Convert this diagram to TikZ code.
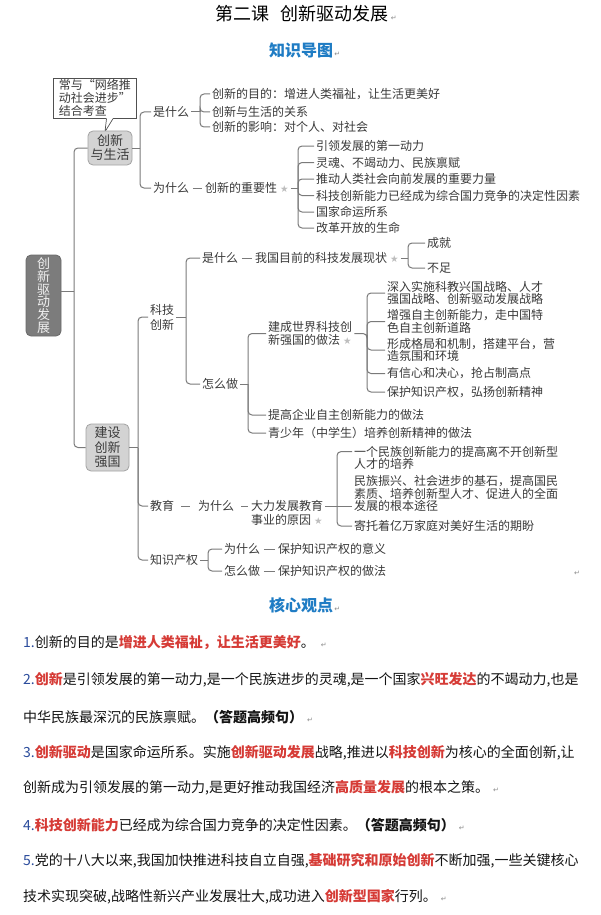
\documentclass[tikz,border=0pt]{standalone}
\usepackage{fontspec}
\setmainfont{Noto Sans CJK SC}
\newfontfamily\dvfont{DejaVu Sans}
\usetikzlibrary{calc}
\definecolor{linec}{HTML}{7A7A7A}
\definecolor{txtc}{HTML}{3A3A3A}
\definecolor{titleblue}{HTML}{1F7CC4}
\definecolor{hired}{HTML}{D63B36}
\definecolor{numblue}{HTML}{2B4C9C}
\definecolor{starc}{HTML}{BDBDBD}
\definecolor{retc}{HTML}{8A8A8A}
\definecolor{boxfill}{HTML}{D3D3D3}
\definecolor{boxdraw}{HTML}{A3A3A3}
\definecolor{rootfill}{HTML}{7C7C7C}
\definecolor{calldraw}{HTML}{505050}
\newcommand\mystar{\hspace{3pt}{\dvfont\fontsize{9.5}{9.5}\selectfont\textcolor{starc}{★}}}
\newcommand\myret{{\dvfont\fontsize{7}{7}\selectfont\textcolor{retc}{↵}}}
\newcommand\hl[1]{\textcolor{hired}{\bfseries #1}}
\newcommand\num[1]{\textcolor{numblue}{#1}}
\begin{document}
\begin{tikzpicture}[x=1pt,y=-1pt,
  lbl/.style={anchor=west, inner sep=2pt, text=txtc, font=\fontsize{12}{12}\selectfont},
  mlbl/.style={lbl, align=left, font=\fontsize{12}{12.8}\selectfont},
  conn/.style={draw=linec, line width=1pt, rounded corners=4pt},
  dashc/.style={conn, shorten <=1.5pt, shorten >=1.5pt},
  graybox/.style={draw=boxdraw, fill=boxfill, rounded corners=5pt, line width=0.8pt, align=center, text=txtc, inner sep=0pt},
  para/.style={anchor=west, inner sep=0pt, font=\fontsize{14}{14}\selectfont, text=black!92},
  heading/.style={font=\bfseries\fontsize{16}{16}\selectfont, text=titleblue, inner sep=0pt},
  retnode/.style={anchor=base west, inner sep=0pt}
]
\fill[white] (0,0) rectangle (601,915);
\useasboundingbox (0,0) rectangle (601,915);

% titles
\node[font=\fontsize{18}{18}\selectfont, text=black, inner sep=0pt] (title) at (302,14) {第二课\hspace{11pt}创新驱动发展};
\node[retnode] (ret1) at ([xshift=2pt]title.base east) {\myret};
\node[heading] (map) at (301,50) {知识导图};
\node[retnode] (ret2) at ([xshift=1pt]map.base east) {\myret};

% callout
\node[draw=calldraw, fill=white, line width=0.7pt, anchor=north west, minimum width=83pt, minimum height=40pt, inner xsep=5pt, inner ysep=0pt, align=left, text=txtc, font=\fontsize{12}{13}\selectfont] (call) at (53,78) {常与“网络推\\动社会进步”\\结合考查};
\fill[white] ([shift={(53.5,-0.5)}]call.south west) -- ([shift={(52,13)}]call.south west) -- ([shift={(60,-0.5)}]call.south west) -- cycle;
\draw[calldraw, line width=0.7pt] ([shift={(53.5,0)}]call.south west) -- ([shift={(52,13)}]call.south west) -- ([shift={(60,0)}]call.south west);

% main boxes
\node[graybox, minimum width=44pt, minimum height=34pt, font=\fontsize{13}{14}\selectfont] (life) at (110,148) {创新\\与生活};
\node[graybox, draw=rootfill!85!black, fill=rootfill, text=white!94!black, minimum width=35pt, minimum height=81pt, font=\fontsize{13}{12.8}\selectfont] (root) at (43.5,295.5) {创\\新\\驱\\动\\发\\展};
\node[graybox, minimum width=43pt, minimum height=47pt, font=\fontsize{13}{14.5}\selectfont] (build) at (107.5,447.5) {建设\\创新\\强国};

\coordinate (j0) at (74,291);
\draw[conn] (root.east |- j0) -- (j0);
\draw[conn] (j0) |- (life.west);
\draw[conn] (j0) |- (build.west);

% ---- creation and life
\node[lbl] (what1) at (151,112) {是什么};
\node[lbl] (why1) at (151,188) {为什么};
\coordinate (j1) at (140,148);
\draw[conn] (life.east) -- (j1);
\draw[conn] (j1) |- (what1.west);
\draw[conn] (j1) |- (why1.west);

\node[lbl] (a1) at (210,94) {创新的目的：增进人类福祉，让生活更美好};
\node[lbl] (a2) at (210,112) {创新与生活的关系};
\node[lbl] (a3) at (210,127) {创新的影响：对个人、对社会};
\coordinate (j2) at (200,112);
\draw[conn] (what1.east) -- (j2);
\draw[conn] (j2) |- (a1.west);
\draw[conn] (j2) |- (a2.west);
\draw[conn] (j2) |- (a3.west);

\node[lbl] (imp) at (203,188) {创新的重要性\mystar};
\draw[dashc] (why1.east) -- (imp.west);
\coordinate (j3) at (298,188);
\draw[conn] (imp.east) -- (j3);
\node[lbl] (b1) at (314,146) {引领发展的第一动力};
\node[lbl] (b2) at (314,162.5) {灵魂、不竭动力、民族禀赋};
\node[lbl] (b3) at (314,179) {推动人类社会向前发展的重要力量};
\node[lbl] (b4) at (314,195.5) {科技创新能力已经成为综合国力竞争的决定性因素};
\node[lbl] (b5) at (314,212) {国家命运所系};
\node[lbl] (b6) at (314,228) {改革开放的生命};
\foreach \n in {b1,b2,b3,b4,b5,b6} \draw[conn] (j3) |- (\n.west);

% ---- building
\node[lbl, align=left, font=\fontsize{12}{15}\selectfont] (tech) at (148,317) {科技\\创新};
\node[lbl] (edu0) at (148,506) {教育};
\node[lbl] (ip) at (148,560) {知识产权};
\coordinate (j4) at (138,447.5);
\draw[conn] (build.east) -- (j4);
\draw[conn] (j4) |- (tech.west);
\draw[conn] (j4) |- (edu0.west);
\draw[conn] (j4) |- (ip.west);

\coordinate (j5) at (186,317);
\draw[conn] (tech.east) -- (j5);
\node[lbl] (what2) at (200,258) {是什么};
\node[lbl] (how2) at (200,384) {怎么做};
\draw[conn] (j5) |- (what2.west);
\draw[conn] (j5) |- (how2.west);

\node[lbl] (status) at (253,258) {我国目前的科技发展现状\mystar};
\draw[dashc] (what2.east) -- (status.west);
\coordinate (j6) at (408,258);
\draw[conn] (status.east) -- (j6);
\node[lbl] (ach) at (425,243) {成就};
\node[lbl] (lack) at (425,268) {不足};
\draw[conn] (j6) |- (ach.west);
\draw[conn] (j6) |- (lack.west);

\coordinate (j7) at (248,384);
\draw[conn] (how2.east) -- (j7);
\node[mlbl, font=\fontsize{12}{13.5}\selectfont] (way) at (266,333.5) {建成世界科技创\\新强国的做法\mystar};
\node[lbl] (ent) at (266,415) {提高企业自主创新能力的做法};
\node[lbl] (youth) at (266,433) {青少年（中学生）培养创新精神的做法};
\draw[conn] (j7) |- (way.west);
\draw[conn] (j7) |- (ent.west);
\draw[conn] (j7) |- (youth.west);

\coordinate (j8) at (367,334.5);
\draw[conn] (way.east) -- (way.east -| j8) -- (j8);
\node[mlbl] (c1) at (385,293) {深入实施科教兴国战略、人才\\强国战略、创新驱动发展战略};
\node[mlbl] (c2) at (385,321.5) {增强自主创新能力，走中国特\\色自主创新道路};
\node[mlbl] (c3) at (385,350) {形成格局和机制，搭建平台，营\\造氛围和环境};
\node[lbl] (c4) at (385,373.5) {有信心和决心，抢占制高点};
\node[lbl] (c5) at (385,392) {保护知识产权，弘扬创新精神};
\foreach \n in {c1,c2,c3,c4,c5} \draw[conn] (j8) |- (\n.west);

% education
\node[lbl] (why3) at (196,506) {为什么};
\draw[conn, shorten <=5pt, shorten >=6pt] (edu0.east) -- (why3.west);
\node[lbl] (edu) at (249,506) {大力发展教育};
\node[lbl] (edu2) at (249,520) {事业的原因\mystar};
\draw[conn, shorten <=5pt, shorten >=1pt] (why3.east) -- (edu.west);
\node[mlbl] (e1) at (352,458) {一个民族创新能力的提高离不开创新型\\人才的培养};
\node[mlbl] (e2) at (352,493.5) {民族振兴、社会进步的基石，提高国民\\素质、培养创新型人才、促进人的全面\\发展的根本途径};
\node[lbl] (e3) at (352,526) {寄托着亿万家庭对美好生活的期盼};
\coordinate (j9) at (337,506);
\draw[conn] (edu.east) -- (edu.east -| e2.west);
\draw[conn] (j9) |- ([yshift=6.4pt]e1.west);
\draw[conn] (j9) |- (e3.west);

% intellectual property
\coordinate (j10) at (208,560);
\draw[conn] (ip.east) -- (j10);
\node[lbl] (why4) at (222,549) {为什么};
\node[lbl] (how4) at (222,571) {怎么做};
\draw[conn] (j10) |- (why4.west);
\draw[conn] (j10) |- (how4.west);
\node[lbl] (ipm) at (276,549) {保护知识产权的意义};
\node[lbl] (ipw) at (276,571) {保护知识产权的做法};
\draw[dashc] (why4.east) -- (ipm.west);
\draw[dashc] (how4.east) -- (ipw.west);
\node[inner sep=0pt] (ret3) at (577,573) {\myret};

% core viewpoints
\node[heading] (core) at (301,605) {核心观点};
\node[retnode] (ret4) at ([xshift=1pt]core.base east) {\myret};

\node[para] (p1) at (23,643) {\num{1.}创新的目的是\hl{增进人类福祉，让生活更美好}。\hspace{6pt}\myret};
\node[para] (p2) at (23,680) {\num{2.}\hl{创新}是引领发展的第一动力,是一个民族进步的灵魂,是一个国家\hl{兴旺发达}的不竭动力,也是};
\node[para] (p3) at (23,717) {中华民族最深沉的民族禀赋。{\bfseries （答题高频句）}\hspace{4pt}\myret};
\node[para] (p4) at (23,753) {\num{3.}\hl{创新驱动}是国家命运所系。实施\hl{创新驱动发展}战略,推进以\hl{科技创新}为核心的全面创新,让};
\node[para] (p5) at (23,788) {创新成为引领发展的第一动力,是更好推动我国经济\hl{高质量发展}的根本之策。\hspace{4pt}\myret};
\node[para] (p6) at (23,825) {\num{4.}\hl{科技创新能力}已经成为综合国力竞争的决定性因素。{\bfseries （答题高频句）}\hspace{4pt}\myret};
\node[para] (p7) at (23,861) {\num{5.}党的十八大以来,我国加快推进科技自立自强,\hl{基础研究和原始创新}不断加强,一些关键核心};
\node[para] (p8) at (23,897) {技术实现突破,战略性新兴产业发展壮大,成功进入\hl{创新型国家}行列。\hspace{4pt}\myret};
\end{tikzpicture}
\end{document}
